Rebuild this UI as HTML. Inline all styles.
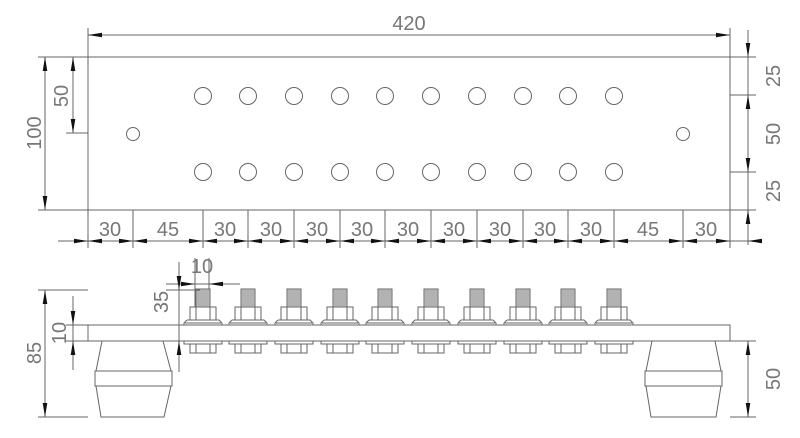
<!DOCTYPE html>
<html><head><meta charset="utf-8"><style>
html,body{margin:0;padding:0;background:#fff}
svg{display:block}
text{font-family:"Liberation Sans",sans-serif;font-size:20px;fill:#777;font-weight:300}
</style></head><body>
<svg id="s" width="800" height="438" viewBox="0 0 800 438" xmlns="http://www.w3.org/2000/svg">
<g id="g" stroke="#666" stroke-width="1" fill="none"></g>
<g id="a" fill="#111" stroke="none"></g>
<text x="409" y="30" text-anchor="middle">420</text>
<text transform="translate(41,133) rotate(-90)" text-anchor="middle">100</text>
<text transform="translate(68,96) rotate(-90)" text-anchor="middle">50</text>
<text transform="translate(780,76) rotate(-90)" text-anchor="middle">25</text>
<text transform="translate(780,134) rotate(-90)" text-anchor="middle">50</text>
<text transform="translate(780,191) rotate(-90)" text-anchor="middle">25</text>
<text x="110" y="236" text-anchor="middle">30</text>
<text x="168" y="236" text-anchor="middle">45</text>
<text x="225" y="236" text-anchor="middle">30</text>
<text x="271" y="236" text-anchor="middle">30</text>
<text x="317" y="236" text-anchor="middle">30</text>
<text x="362" y="236" text-anchor="middle">30</text>
<text x="408" y="236" text-anchor="middle">30</text>
<text x="454" y="236" text-anchor="middle">30</text>
<text x="500" y="236" text-anchor="middle">30</text>
<text x="545" y="236" text-anchor="middle">30</text>
<text x="591" y="236" text-anchor="middle">30</text>
<text x="648" y="236" text-anchor="middle">45</text>
<text x="706" y="236" text-anchor="middle">30</text>
<text x="202" y="273" text-anchor="middle">10</text>
<text transform="translate(168,302) rotate(-90)" text-anchor="middle">35</text>
<text transform="translate(66,333) rotate(-90)" text-anchor="middle">10</text>
<text transform="translate(41,353) rotate(-90)" text-anchor="middle">85</text>
<text transform="translate(780,379) rotate(-90)" text-anchor="middle">50</text>
</svg>
<script>
var g=document.getElementById('g'),a=document.getElementById('a'),N='http://www.w3.org/2000/svg';
function L(x1,y1,x2,y2,c){var e=document.createElementNS(N,'line');e.setAttribute('x1',x1);e.setAttribute('y1',y1);e.setAttribute('x2',x2);e.setAttribute('y2',y2);if(c)e.setAttribute('stroke',c);g.appendChild(e);}
function C(x,y,r){var e=document.createElementNS(N,'circle');e.setAttribute('cx',x);e.setAttribute('cy',y);e.setAttribute('r',r);g.appendChild(e);}
function P(d,f){var e=document.createElementNS(N,'path');e.setAttribute('d',d);if(f){e.setAttribute('fill',f);}g.appendChild(e);}
function R(x,y,w,h,f){var e=document.createElementNS(N,'rect');e.setAttribute('x',x);e.setAttribute('y',y);e.setAttribute('width',w);e.setAttribute('height',h);if(f)e.setAttribute('fill',f);g.appendChild(e);}
function A(x,y,dx,dy){var l=14,w=2.3;var bx=x-dx*l,by=y-dy*l;var px=-dy*w,py=dx*w;var e=document.createElementNS(N,'path');e.setAttribute('d','M'+x+','+y+'L'+(bx+px)+','+(by+py)+'L'+(bx-px)+','+(by-py)+'Z');a.appendChild(e);}
R(88,57,642,153);
L(38,57,88,57);L(38,210,88,210);L(730,57,756,57);L(730,95,756,95);L(730,172,756,172);L(730,210,756,210);
L(88,28,88,57);L(730,28,730,57);
L(88,35,730,35);A(88,35,-1,0);A(730,35,1,0);
L(45,57,45,210);A(45,57,0,-1);A(45,210,0,1);
L(73,57,73,133);A(73,57,0,-1);A(73,133,0,1);L(66,133,88,133);
L(748,30,748,245);A(748,57,0,1);A(748,95,0,-1);A(748,172,0,1);A(748,210,0,-1);
var cols=[203,248,294,340,385,431,477,523,568,614];
cols.forEach(function(x){C(x,96,8.5);C(x,172,8.5);});
C(133,134,6.5);C(683,134,6.5);
var ticks=[88,133,203,248,294,340,385,431,477,523,568,614,683,730];
L(58,241,756,241);
ticks.forEach(function(x){L(x,210,x,248);A(x,241,1,0);if(x!=730)A(x,241,-1,0);});
A(748,241,-1,0);
R(88,325,642,16);
L(38,290,88,290);L(38,417,88,417);L(66,325,88,325);L(66,341,88,341);
L(45,290,45,417);A(45,290,0,-1);A(45,417,0,1);
L(73,296,73,370);A(73,325,0,1);A(73,341,0,-1);
L(730,341,756,341);L(730,417,756,417);
L(748,341,748,417);A(748,341,0,-1);A(748,417,0,1);
function foot(x1,x2,bx1,bx2){P('M'+x1+',341L'+(bx1+1)+',371L'+(bx2-1)+',371L'+x2+',341');R(bx1,371,bx2-bx1,15);P('M'+(bx1+1)+',386L'+(x1-1)+',417L'+(x2+1)+',417L'+(bx2-1)+',386');}
foot(102,163,95,172);foot(652,715,645,722);
cols.forEach(function(x){
 R(x-7,289,14,18,'#ccc');
 for(var y=291;y<307;y+=2)L(x-7,y,x+7,y,'#999');
 R(x-13,307,26,13,'#fff');L(x-7,307,x-7,320);L(x+7,307,x+7,320);
 P('M'+(x-16)+',320L'+(x+16)+',320L'+(x+19)+',323L'+(x+19)+',325M'+(x-19)+',325L'+(x-19)+',323L'+(x-16)+',320');
 L(x-18,323,x+18,323);
 P('M'+(x-19)+',341L'+(x-19)+',344L'+(x+19)+',344L'+(x+19)+',341');
 R(x-13,344,26,9,'#fff');L(x-7,344,x-7,353);L(x+7,344,x+7,353);
});
L(195,258,195,307);L(209,258,209,289);
L(166,284,240,284);A(195,284,1,0);A(209,284,-1,0);
L(166,290,200,290);
L(179,262,179,372);A(179,290,0,1);A(179,341,0,-1);
</script>
</body></html>
